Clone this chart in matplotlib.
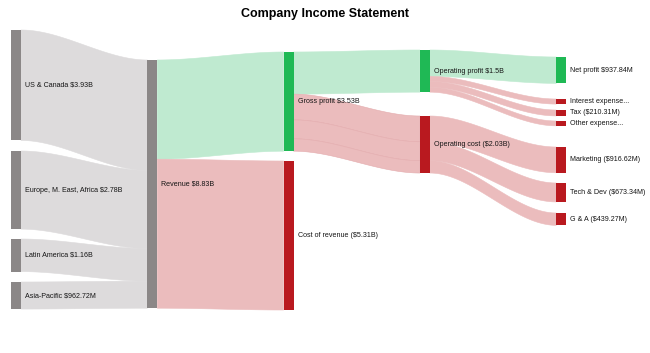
import numpy as np
import matplotlib.pyplot as plt
from matplotlib.patches import Polygon, Rectangle

plt.rcParams['font.family'] = ['Liberation Sans', 'DejaVu Sans']

# ---- data -------------------------------------------------------------
nodes = ["US & Canada", "Europe, M. East, Africa", "Latin America", "Asia-Pacific",
         "Revenue", "Gross profit", "Cost of revenue",
         "Operating profit", "Operating cost",
         "Net profit", "Interest expense", "Tax", "Other expense",
         "Marketing", "Tech & Dev", "G & A"]
node_labels = ["US & Canada $3.93B", "Europe, M. East, Africa $2.78B",
               "Latin America $1.16B", "Asia-Pacific $962.72M",
               "Revenue $8.83B", "Gross profit $3.53B", "Cost of revenue ($5.31B)",
               "Operating profit $1.5B", "Operating cost ($2.03B)",
               "Net profit $937.84M", "Interest expense...", "Tax ($210.31M)",
               "Other expense...", "Marketing ($916.62M)", "Tech & Dev ($673.34M)",
               "G & A ($439.27M)"]
node_kind = ["region"] * 4 + ["revenue", "income", "expense", "income", "expense",
                              "income", "expense", "expense", "expense",
                              "expense", "expense", "expense"]
node_col = [0, 0, 0, 0, 1, 2, 2, 3, 3, 4, 4, 4, 4, 4, 4, 4]

# values in $B
link_source = ["US & Canada", "Europe, M. East, Africa", "Latin America", "Asia-Pacific",
               "Revenue", "Revenue",
               "Gross profit", "Gross profit", "Gross profit", "Gross profit",
               "Operating profit", "Operating profit", "Operating profit", "Operating profit",
               "Operating cost", "Operating cost", "Operating cost"]
link_target = ["Revenue", "Revenue", "Revenue", "Revenue",
               "Gross profit", "Cost of revenue",
               "Operating profit", "Operating cost", "Operating cost", "Operating cost",
               "Net profit", "Interest expense", "Tax", "Other expense",
               "Marketing", "Tech & Dev", "G & A"]
link_value = [3.93, 2.78, 1.16, 0.96272,
              3.53, 5.30272,
              1.5, 0.91662, 0.67334, 0.43927,
              0.93784, 0.18, 0.21031, 0.17185,
              0.91662, 0.67334, 0.43927]

# ---- layout (pixels, y grows downward) --------------------------------
W, H = 650, 353
col_x0, col_step, node_w = 11, 136.3, 10
px_per_b = 28.1
node_top = {"US & Canada": 30, "Europe, M. East, Africa": 151, "Latin America": 239,
            "Asia-Pacific": 282, "Revenue": 60, "Gross profit": 52,
            "Cost of revenue": 161, "Operating profit": 50, "Operating cost": 116,
            "Net profit": 57, "Interest expense": 99, "Tax": 110, "Other expense": 121,
            "Marketing": 147, "Tech & Dev": 183, "G & A": 213}

node_color = {"region": "#8b8787", "revenue": "#8b8787",
              "income": "#1fb955", "expense": "#b9191f"}
link_color = {"region": "#dddbdc", "income": "#bfead0", "expense": "#ebbcbd"}

fig = plt.figure(figsize=(W / 100, H / 100), dpi=100)
ax = fig.add_axes([0, 0, 1, 1])
ax.set_xlim(0, W)
ax.set_ylim(H, 0)
ax.axis("off")

idx = {n: i for i, n in enumerate(nodes)}
node_val = {}
for n in nodes:
    vin = sum(v for t, v in zip(link_target, link_value) if t == n)
    vout = sum(v for s, v in zip(link_source, link_value) if s == n)
    node_val[n] = max(vin, vout)

out_off = {n: 0.0 for n in nodes}
in_off = {n: 0.0 for n in nodes}
t = np.linspace(0, 1, 80)


def bezier(a, b):
    return a + (b - a) * (3 * t ** 2 - 2 * t ** 3)


for s, tg, v in zip(link_source, link_target, link_value):
    h = v * px_per_b
    x0 = col_x0 + node_col[idx[s]] * col_step + node_w
    x1 = col_x0 + node_col[idx[tg]] * col_step
    y0 = node_top[s] + out_off[s]
    y1 = node_top[tg] + in_off[tg]
    out_off[s] += h
    in_off[tg] += h
    xs = x0 + (x1 - x0) * t
    top = bezier(y0, y1)
    bot = bezier(y0 + h, y1 + h)
    kind = "region" if node_kind[idx[s]] == "region" else node_kind[idx[tg]]
    col = link_color[kind]
    edge = "#e4acae" if s == "Gross profit" and tg == "Operating cost" else col
    pts = np.column_stack([np.r_[xs, xs[::-1]], np.r_[top, bot[::-1]]])
    ax.add_patch(Polygon(pts, closed=True, facecolor=col, edgecolor=edge,
                         linewidth=0.4, zorder=1))

for i, n in enumerate(nodes):
    x = col_x0 + node_col[i] * col_step
    h = node_val[n] * px_per_b
    ax.add_patch(Rectangle((x, node_top[n]), node_w, h,
                           facecolor=node_color[node_kind[i]], edgecolor="none", zorder=2))
    ax.text(x + node_w + 4, node_top[n] + h / 2, node_labels[i], fontsize=5.1,
            va="center", ha="left", color="#151515", zorder=3)

ax.text(W / 2, 14, "Company Income Statement", fontsize=9, fontweight="bold",
        ha="center", va="center")

fig.savefig("out.png", dpi=100)
